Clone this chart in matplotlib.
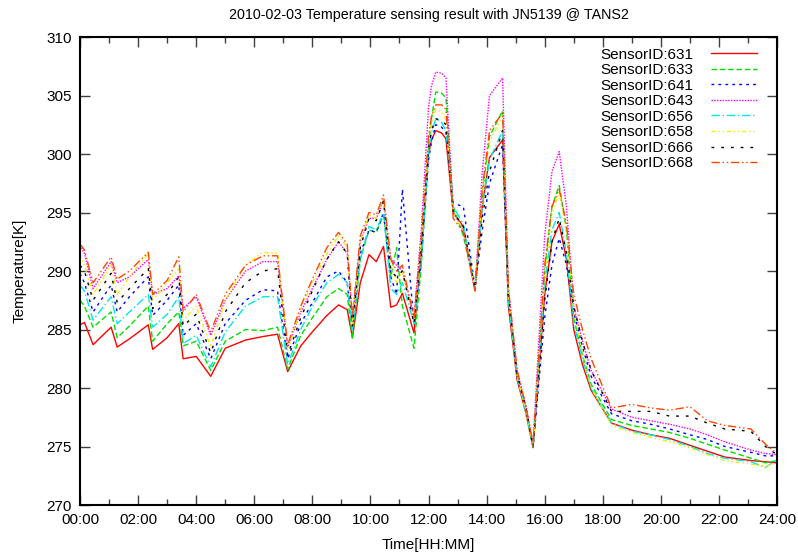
import numpy as np
import matplotlib
matplotlib.use('Agg')
import matplotlib.pyplot as plt
from matplotlib.ticker import MultipleLocator, FuncFormatter

plt.rcParams['font.family'] = ['Liberation Sans', 'DejaVu Sans']

# sample times in hours
hours = [0.0, 0.15, 0.45, 1.07, 1.28, 1.7, 2.35, 2.5, 3.0, 3.4, 3.55, 4.0, 4.5, 5.0, 5.7,
         6.3, 6.8, 7.15, 7.6, 8.0, 8.5, 8.9, 9.2, 9.38, 9.65, 9.95, 10.2, 10.45, 10.7, 10.9,
         11.1, 11.5, 11.75, 12.0, 12.1, 12.25, 12.45, 12.6, 12.85, 13.2, 13.6, 13.85, 14.1,
         14.55, 14.75, 15.05, 15.35, 15.6, 16.0, 16.25, 16.5, 16.75, 17.0, 17.3, 17.6, 18.3,
         19.0, 19.65, 20.3, 21.0, 21.6, 22.2, 23.1, 23.6, 24.0]

s631 = [285.4, 285.6, 283.7, 285.2, 283.5, 284.2, 285.4, 283.3, 284.3, 285.5, 282.5, 282.7,
        281.0, 283.4, 284.1, 284.4, 284.6, 281.4, 283.6, 284.8, 286.2, 287.1, 286.7, 284.3,
        289.0, 291.4, 290.8, 292.1, 286.9, 287.1, 288.1, 284.7, 291.5,
        300.0, 301.2, 302.0, 301.8, 301.3, 295.0, 293.8, 288.4, 295.5, 299.7, 301.2, 287.0,
        280.7, 277.9, 274.9, 288.0, 292.5, 294.0, 291.0, 285.0, 282.0, 279.8,
        277.0, 276.4, 276.0, 275.7, 275.1, 274.6, 274.1, 273.8, 273.7, 273.6]
s633 = [287.5, 287.0, 285.2, 286.5, 284.3, 285.3, 287.0, 284.0, 285.5, 286.5, 283.6, 284.0,
        281.5, 284.0, 285.0, 284.9, 285.2, 281.6, 284.5, 286.0, 287.8, 288.5, 288.0, 284.2,
        291.0, 293.5, 293.3, 294.8, 289.5, 292.0, 287.0, 283.4, 290.5,
        300.5, 303.0, 305.3, 305.2, 304.8, 295.5, 293.0, 288.5, 296.5, 301.5, 303.7, 287.5,
        281.0, 278.0, 275.0, 290.0, 295.5, 297.3, 293.5, 286.0, 282.8, 280.3,
        277.3, 276.8, 276.5, 276.2, 275.7, 275.2, 274.7, 274.0, 273.6, 273.8]
s641 = [289.8, 289.0, 286.5, 288.8, 286.5, 287.8, 289.5, 286.2, 287.5, 288.8, 284.5, 285.5,
        282.5, 285.5, 287.5, 288.4, 288.3, 282.5, 285.5, 287.3, 289.5, 290.0, 289.0, 285.2,
        291.5, 293.5, 293.3, 295.0, 289.5, 288.0, 297.0, 285.5, 291.0,
        299.5, 301.0, 302.5, 302.3, 301.8, 295.8, 295.5, 288.6, 293.5, 297.5, 300.8, 287.5,
        281.0, 278.2, 275.0, 286.0, 290.5, 292.8, 290.5, 286.5, 283.5, 281.0,
        277.8, 277.2, 276.9, 276.5, 276.0, 275.6, 275.0, 274.5, 274.2, 274.2]
s643 = [292.2, 291.5, 288.5, 290.8, 289.0, 289.5, 291.0, 288.0, 288.5, 289.6, 286.8, 287.8,
        284.5, 287.5, 290.0, 290.8, 290.8, 283.5, 286.5, 288.5, 291.0, 292.5, 291.5, 286.0,
        292.5, 294.5, 294.5, 296.0, 291.0, 290.5, 290.0, 286.0, 293.5,
        304.0, 305.8, 307.0, 306.9, 306.5, 295.0, 293.5, 288.3, 298.5, 305.0, 306.5, 288.5,
        281.5, 278.5, 275.2, 293.0, 298.5, 300.2, 295.5, 287.0, 284.0, 281.5,
        278.2, 277.5, 277.2, 276.9, 276.5, 276.0, 275.4, 274.7, 274.4, 274.3]
s656 = [288.8, 288.3, 285.8, 287.8, 285.5, 286.5, 288.0, 285.2, 286.3, 287.8, 283.8, 284.5,
        281.8, 284.8, 287.0, 287.8, 287.8, 282.0, 285.0, 287.0, 289.0, 289.7, 289.0, 285.0,
        291.0, 293.8, 293.5, 295.0, 288.5, 288.0, 289.0, 285.5, 291.0,
        300.0, 301.8, 303.0, 302.7, 302.0, 295.5, 294.0, 288.5, 295.5, 299.5, 302.0, 287.5,
        281.0, 278.0, 275.0, 289.0, 293.5, 295.0, 291.5, 285.5, 282.5, 280.0,
        277.0, 276.3, 276.0, 275.6, 275.0, 274.4, 274.0, 273.7, 273.2, 273.9]
s658 = [291.5, 290.5, 288.0, 290.5, 288.0, 289.5, 291.5, 287.5, 289.0, 290.2, 285.8, 287.0,
        283.5, 287.5, 290.5, 291.6, 291.5, 283.2, 286.8, 289.0, 291.5, 293.0, 292.0, 285.5,
        292.5, 294.8, 294.5, 296.2, 290.5, 289.0, 290.0, 285.8, 292.5,
        301.0, 302.7, 303.8, 303.6, 303.0, 295.0, 293.5, 288.5, 296.5, 301.0, 303.3, 288.0,
        281.0, 278.0, 275.0, 289.5, 295.0, 296.7, 293.5, 286.5, 283.0, 280.0,
        276.8, 276.2, 275.8, 275.4, 274.9, 274.3, 273.8, 273.5, 273.3, 273.6]
s666 = [290.5, 290.0, 287.5, 289.8, 287.3, 288.5, 290.2, 286.8, 288.0, 289.5, 285.3, 286.3,
        283.0, 286.5, 289.0, 290.0, 290.2, 282.8, 286.0, 288.3, 291.0, 292.5, 291.5, 285.3,
        292.0, 294.5, 294.3, 296.0, 290.0, 289.5, 290.0, 285.5, 292.0,
        300.5, 302.0, 303.0, 302.9, 302.5, 295.0, 293.8, 288.5, 294.5, 298.5, 302.0, 288.0,
        281.2, 278.3, 275.0, 287.5, 292.5, 294.5, 291.5, 287.0, 284.0, 281.5,
        278.0, 278.0, 278.0, 277.6, 277.6, 277.0, 276.5, 276.3, 275.0, 274.3]
s668 = [292.3, 291.8, 289.0, 291.2, 289.3, 290.0, 291.6, 288.0, 289.2, 291.2, 286.5, 288.0,
        284.8, 288.0, 290.5, 291.3, 291.3, 283.7, 287.0, 289.3, 292.0, 293.3, 292.3, 286.0,
        293.0, 295.0, 294.8, 296.5, 291.0, 290.0, 290.5, 286.0, 293.0,
        301.5, 303.2, 304.2, 304.2, 303.8, 294.5, 293.3, 288.3, 297.0, 302.0, 303.5, 288.5,
        281.5, 278.5, 275.2, 290.5, 295.5, 297.0, 294.0, 288.0, 285.0, 282.5,
        278.3, 278.6, 278.3, 278.1, 278.4, 277.2, 276.8, 276.5, 275.2, 274.4]

labels = ['SensorID:631', 'SensorID:633', 'SensorID:641', 'SensorID:643',
          'SensorID:656', 'SensorID:658', 'SensorID:666', 'SensorID:668']
series = [s631, s633, s641, s643, s656, s658, s666, s668]
colors = ['#ff0000', '#00e000', '#0000ff', '#ff00ff', '#00e8e8', '#f0f000', '#000000', '#ff4500']
styles = ['-', (0, (4, 2)), (0, (2, 3)), (0, (1, 1)), (0, (6, 2, 1, 2)),
          (0, (3, 2, 1, 2, 1, 2)), (0, (2, 5)), (0, (6, 2, 1, 2, 1, 2))]

fig = plt.figure(figsize=(7.98, 5.59), dpi=100)
ax = fig.add_axes([0.1003, 0.0966, 0.8734, 0.8372])

for vals, lab, c, ls in zip(series, labels, colors, styles):
    ax.plot(hours, vals, color=c, linestyle=ls, linewidth=1.0, label=lab)

ax.set_xlim(0, 24)
ax.set_ylim(270, 310)
ax.xaxis.set_major_locator(MultipleLocator(2))
ax.xaxis.set_minor_locator(MultipleLocator(1))
ax.yaxis.set_major_locator(MultipleLocator(5))
ax.xaxis.set_major_formatter(FuncFormatter(lambda v, p: '%02d:00' % int(round(v))))
ax.tick_params(which='both', direction='in', top=True, right=True, labelsize=11, pad=6)
ax.tick_params(which='major', length=7, width=1, color='#404040')
ax.tick_params(which='minor', length=4, width=1, color='#404040')
for sp in ax.spines.values():
    sp.set_linewidth(1.5)

ax.set_title('2010-02-03 Temperature sensing result with JN5139 @ TANS2', fontsize=10.3, pad=13)
ax.set_xlabel('Time[HH:MM]', fontsize=11, labelpad=8)
ax.set_ylabel('Temperature[K]', fontsize=11, labelpad=14)

ax.legend(loc='upper right', bbox_to_anchor=(0.987, 1.0), frameon=False, markerfirst=False,
          fontsize=11, handlelength=3.0, labelspacing=0.1, borderaxespad=0.3, handletextpad=1.2)

fig.savefig('out.png', dpi=100)
